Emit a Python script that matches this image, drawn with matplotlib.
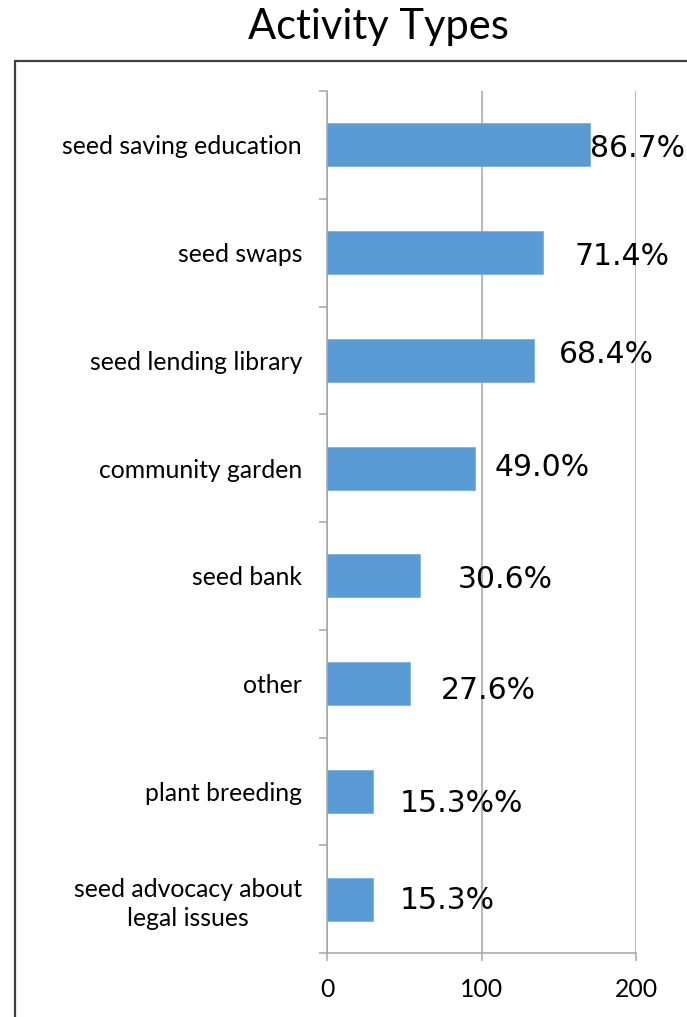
import matplotlib.pyplot as plt
from matplotlib.patches import Rectangle
import numpy as np

categories = ['seed saving education', 'seed swaps', 'seed lending library',
              'community garden', 'seed bank', 'other', 'plant breeding',
              'seed advocacy about\nlegal issues']
counts = [170, 140, 134, 96, 60, 54, 30, 30]
pct_labels = ['86.7%', '71.4%', '68.4%', '49.0%', '30.6%', '27.6%', '15.3%%', '15.3%']

# hand-placed label positions (data x, offset in category units)
label_x = [170.2, 160.5, 150.2, 108.4, 84.5, 73.5, 47.3, 47.3]
label_dy = [0.03, 0.04, -0.05, -0.01, 0.03, 0.06, 0.11, 0.01]

fig = plt.figure(figsize=(6.87, 10.17), dpi=100)
ax = fig.add_axes([327/687, 1 - 953/1017, (636 - 327)/687, (953 - 91)/1017])

# outer chart frame (runs off the right/bottom edge)
fig.patches.append(Rectangle((15/687, -0.05), 1.2, 1 - 61/1017 + 0.05,
                             transform=fig.transFigure, fill=False,
                             edgecolor='#404040', linewidth=1.6))

y = np.arange(len(categories))
ax.barh(y, counts, height=0.4, color='#5B9BD5', edgecolor='#7FB0DE', linewidth=0.6, zorder=3)

for i, (lx, dy, t) in enumerate(zip(label_x, label_dy, pct_labels)):
    ax.text(lx, i + dy, t, ha='left', va='center', fontsize=21.5,
            family='DejaVu Sans', color='black', zorder=4)

ax.set_xlim(0, 200)
ax.set_ylim(len(categories) - 0.5, -0.5)
ax.set_xticks([0, 100, 200])
ax.set_xticklabels(['0', '100', '200'], fontsize=17.8, family='Lato')
ax.xaxis.grid(True, color='#A6A6A6', linewidth=1.1, zorder=0)

ax.set_yticks(y)
ax.set_yticklabels(categories, fontsize=17.8, family='Lato',
                   multialignment='center', linespacing=1.3)
ax.set_yticks(np.arange(len(categories) + 1) - 0.5, minor=True)
ax.tick_params(axis='y', which='major', length=0, pad=18)
ax.tick_params(axis='y', which='minor', length=6, color='#A6A6A6', width=1.1)
ax.tick_params(axis='x', length=6, color='#A6A6A6', width=1.1, pad=12)

for s in ['top', 'right']:
    ax.spines[s].set_visible(False)
for s in ['left', 'bottom']:
    ax.spines[s].set_color('#A6A6A6')
    ax.spines[s].set_linewidth(1.1)

fig.text(378/687, 1 - 27/1017, 'Activity Types', ha='center', va='center',
         fontsize=30, family='Lato')

fig.savefig('out.png', dpi=100)
